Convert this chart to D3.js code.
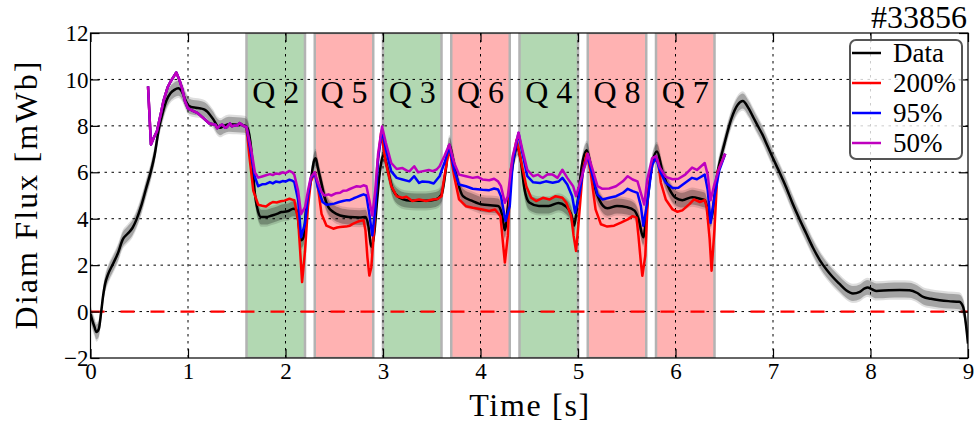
<!DOCTYPE html>
<html><head><meta charset="utf-8">
<script src="https://cdn.jsdelivr.net/npm/d3@7"></script>
<style>
html,body{margin:0;padding:0;background:#fff;}
svg{display:block;}
</style></head>
<body>
<svg id="chart" width="976" height="429" font-family="'Liberation Serif', serif"></svg>
<script>
// ---------------- DATA ----------------
const xTicks = [0,1,2,3,4,5,6,7,8,9];
const yTicks = [-2,0,2,4,6,8,10,12];
const title = "#33856";
const xLabel = "Time [s]";
const yLabel = "Diam Flux [mWb]";

const regionLabels = ["Q 2","Q 5","Q 3","Q 6","Q 4","Q 8","Q 7"];
const regionStart  = [1.6, 2.3, 3.0, 3.7, 4.4, 5.1, 5.8];
const regionEnd    = [2.2, 2.9, 3.6, 4.3, 5.0, 5.7, 6.4];
const regionKind   = ["green","red","green","red","green","red","red"];
const regionLabelValue = 9.0;

const seriesNames = ["Data","200%","95%","50%"];
const seriesColors = ["#000000","#ff0000","#0000ff","#bf00bf"];

// measured diamagnetic flux (black) and its uncertainty
const dataTime = [0.00,0.02,0.04,0.06,0.085,0.11,0.13,0.15,0.18,0.23,0.28,0.33,0.38,0.43,0.47,0.52,0.57,0.62,0.66,0.70,0.74,0.78,0.82,0.86,0.90,0.94,0.97,1.00,1.03,1.08,1.13,1.17,1.20,1.23,1.26,1.30,1.33,1.37,1.42,1.50,1.58,1.61,1.65,1.686,1.72,1.75,1.80,1.86,1.92,1.96,2.02,2.08,2.11,2.13,2.16,2.185,2.21,2.26,2.29,2.31,2.33,2.37,2.40,2.44,2.49,2.56,2.66,2.76,2.82,2.85,2.88,2.91,2.94,2.97,3.007,3.05,3.10,3.17,3.24,3.34,3.44,3.54,3.60,3.64,3.68,3.72,3.77,3.82,3.92,4.02,4.10,4.18,4.22,4.25,4.28,4.33,4.38,4.41,4.45,4.50,4.60,4.70,4.80,4.87,4.93,4.96,4.99,5.04,5.09,5.13,5.17,5.22,5.30,5.40,5.50,5.58,5.62,5.67,5.71,5.76,5.81,5.87,5.94,6.00,6.07,6.17,6.26,6.30,6.33,6.36,6.43,6.50,6.57,6.64,6.69,6.75,6.80,6.85,6.90,6.93,7.00,7.07,7.13,7.20,7.27,7.34,7.41,7.48,7.55,7.61,7.68,7.75,7.82,7.89,7.94,7.97,8.02,8.06,8.19,8.30,8.40,8.48,8.54,8.62,8.71,8.80,8.91,8.95,9.00];
const dataValue = [-0.1,-0.4,-0.65,-0.88,-0.75,0.0,0.7,1.2,1.6,2.05,2.5,3.1,3.35,3.6,3.95,4.55,5.3,6.05,6.8,7.85,8.55,9.1,9.4,9.55,9.62,9.45,9.15,8.9,8.82,8.78,8.75,8.7,8.6,8.45,8.28,8.0,7.92,8.0,8.07,8.05,8.02,7.9,6.95,5.08,4.29,4.07,4.07,4.14,4.22,4.29,4.32,4.43,4.4,3.93,3.07,3.2,4.36,5.65,6.45,6.6,6.23,5.5,4.94,4.5,4.29,4.14,4.07,4.05,4.07,3.7,2.78,3.35,4.8,6.1,6.76,6.1,5.26,4.9,4.8,4.77,4.77,4.83,5.04,5.97,7.19,6.54,5.54,4.97,4.76,4.61,4.58,4.55,4.2,3.5,4.5,6.3,7.05,6.6,5.3,4.7,4.55,4.55,4.68,4.55,4.2,3.7,4.5,6.3,6.95,6.3,5.4,4.8,4.45,4.55,4.5,4.35,4.0,3.2,4.6,6.4,6.9,5.97,5.25,4.9,4.8,4.93,4.85,4.8,4.4,3.97,5.97,7.2,8.27,8.92,9.07,8.75,8.35,7.95,7.55,7.26,6.6,5.97,5.4,4.67,4.0,3.37,2.75,2.22,1.8,1.5,1.2,0.92,0.78,0.85,1.0,1.04,0.95,0.89,0.92,0.93,0.92,0.8,0.63,0.55,0.49,0.45,0.42,0.2,-1.38];
const dataUncertainty = 0.32;

// simulations: common part before the first modulation
const earlyTime  = [0.59,0.62,0.65,0.68,0.72,0.75,0.79,0.82,0.85,0.88,0.91,0.94,0.97,1.00,1.05,1.10,1.14,1.18,1.22,1.28,1.30,1.33,1.35,1.38,1.40,1.43,1.45,1.48,1.50,1.53,1.55,1.58];
const earlyValue = [9.7,7.2,7.5,7.75,8.5,9.1,9.65,9.9,10.1,10.3,10.0,9.6,9.05,8.75,8.65,8.55,8.4,8.25,8.1,8.05,7.9,8.02,8.05,7.92,7.95,8.1,7.98,8.02,8.0,8.12,8.05,7.98];

const time50 = [1.60,1.65,1.686,1.72,1.76,1.80,1.84,1.87,1.90,1.94,1.97,2.00,2.04,2.07,2.09,2.13,2.16,2.20,2.23,2.26,2.30,2.33,2.37,2.40,2.44,2.47,2.52,2.56,2.59,2.63,2.66,2.70,2.73,2.77,2.80,2.83,2.86,2.89,2.92,2.95,2.99,3.03,3.085,3.14,3.20,3.24,3.27,3.32,3.36,3.40,3.47,3.51,3.55,3.58,3.63,3.68,3.73,3.78,3.85,3.92,3.97,4.02,4.09,4.14,4.18,4.21,4.25,4.28,4.33,4.39,4.43,4.48,4.54,4.59,4.62,4.64,4.69,4.74,4.79,4.84,4.89,4.95,4.98,5.03,5.075,5.10,5.15,5.20,5.25,5.32,5.39,5.46,5.51,5.56,5.61,5.645,5.68,5.71,5.76,5.80,5.84,5.90,5.97,6.03,6.10,6.17,6.22,6.30,6.33,6.36,6.40,6.45,6.51];
const value50 = [7.95,6.95,6.0,5.77,5.82,5.87,5.92,5.88,5.95,5.93,6.0,5.96,6.06,6.0,5.9,5.2,4.2,4.5,5.2,5.8,6.0,5.58,5.15,5.0,5.05,5.0,5.1,5.12,5.2,5.22,5.28,5.35,5.4,5.38,5.44,5.4,4.8,4.14,5.2,6.8,7.97,7.26,6.4,6.14,6.18,6.08,6.04,6.26,6.0,6.04,6.1,6.05,6.12,6.26,6.7,7.2,6.4,5.9,5.83,5.76,5.8,5.69,5.66,5.72,5.61,5.4,4.69,4.97,6.69,7.71,6.97,6.11,5.83,5.9,5.8,5.76,5.92,5.9,5.76,6.11,5.76,5.4,4.97,5.69,6.33,6.8,6.11,5.4,5.29,5.3,5.4,5.61,5.83,5.69,5.61,5.1,4.61,5.69,6.6,6.7,6.2,5.8,5.7,5.72,5.9,6.2,6.1,6.4,5.9,4.8,5.5,6.2,6.8];

const time95 = [1.60,1.65,1.686,1.72,1.76,1.80,1.84,1.87,1.90,1.94,1.97,2.00,2.04,2.07,2.09,2.13,2.16,2.20,2.23,2.26,2.30,2.33,2.38,2.42,2.46,2.50,2.55,2.59,2.63,2.66,2.70,2.73,2.77,2.80,2.83,2.86,2.89,2.92,2.95,2.99,3.03,3.085,3.14,3.20,3.27,3.32,3.37,3.40,3.47,3.52,3.58,3.63,3.68,3.73,3.78,3.85,3.92,4.02,4.09,4.14,4.18,4.21,4.256,4.30,4.33,4.39,4.43,4.48,4.54,4.61,4.67,4.74,4.80,4.84,4.89,4.94,4.97,5.01,5.055,5.10,5.15,5.20,5.25,5.32,5.39,5.46,5.51,5.56,5.61,5.645,5.67,5.71,5.76,5.80,5.84,5.90,5.97,6.03,6.10,6.17,6.22,6.30,6.33,6.36,6.40,6.45,6.51];
const value95 = [7.95,6.7,5.8,5.4,5.48,5.5,5.58,5.52,5.6,5.57,5.62,5.6,5.68,5.64,5.58,4.8,3.2,3.8,4.94,5.73,5.97,5.37,4.72,4.6,4.62,4.65,4.72,4.76,4.8,4.8,4.88,4.93,5.0,5.05,5.0,4.2,3.28,4.36,6.6,7.83,6.97,6.04,5.76,5.69,5.61,5.83,5.54,5.6,5.58,5.52,5.83,6.4,7.11,6.1,5.47,5.4,5.29,5.25,5.23,5.3,5.26,4.97,3.9,4.54,6.4,7.69,6.83,5.83,5.57,5.54,5.61,5.55,5.6,5.76,5.47,4.97,4.26,4.97,6.11,6.7,5.83,5.04,4.83,4.9,4.97,5.11,5.29,5.19,5.11,4.54,3.69,4.69,6.3,6.65,6.05,5.55,5.32,5.33,5.55,5.76,5.7,5.9,5.25,3.82,4.97,6.1,6.8];

const time200 = [1.60,1.63,1.67,1.72,1.76,1.80,1.84,1.87,1.91,1.95,1.99,2.04,2.07,2.09,2.13,2.15,2.17,2.20,2.23,2.26,2.30,2.33,2.37,2.42,2.49,2.53,2.56,2.62,2.66,2.69,2.73,2.76,2.80,2.82,2.84,2.86,2.88,2.91,2.94,2.98,3.03,3.085,3.14,3.20,3.24,3.30,3.37,3.44,3.51,3.56,3.60,3.63,3.68,3.73,3.78,3.85,3.92,4.02,4.09,4.15,4.205,4.23,4.25,4.28,4.31,4.37,4.42,4.47,4.52,4.57,4.64,4.71,4.77,4.84,4.88,4.93,4.955,4.98,5.00,5.05,5.09,5.13,5.18,5.235,5.30,5.37,5.44,5.51,5.56,5.60,5.62,5.645,5.66,5.69,5.72,5.77,5.82,5.85,5.90,5.97,6.02,6.07,6.14,6.19,6.25,6.30,6.32,6.35,6.37,6.40,6.43,6.51];
const value200 = [7.95,6.66,5.2,4.6,4.56,4.53,4.65,4.72,4.7,4.75,4.78,4.86,4.82,4.8,3.93,2.63,1.27,2.6,4.5,5.6,6.0,5.44,4.2,3.7,3.57,3.62,3.64,3.66,3.7,3.78,3.85,3.9,3.93,3.5,2.35,1.55,1.9,3.64,6.2,7.7,6.4,5.4,4.97,4.9,4.95,4.76,4.83,4.76,4.83,4.85,4.97,5.83,7.04,5.83,4.83,4.54,4.47,4.4,4.33,4.4,4.11,2.97,2.11,3.26,6.11,7.4,6.4,5.4,4.9,4.76,4.9,4.83,4.97,4.9,4.69,4.11,3.26,2.61,3.54,6.11,6.8,6.0,4.4,3.76,3.66,3.7,3.83,3.97,4.11,4.05,3.26,2.11,1.54,2.4,5.26,6.5,6.5,5.55,4.83,4.4,4.3,4.36,4.62,4.83,4.72,4.8,4.5,3.13,1.76,3.56,6.0,6.8];

// ---------------- CHART ----------------
const FONT = "'Liberation Serif', 'Times New Roman', serif";
const svg = d3.select("#chart");
const L = 90.5, R = 968, T = 33, B = 358;
const x = d3.scaleLinear().domain([0,9]).range([L,R]);
const y = d3.scaleLinear().domain([-2,12]).range([B,T]);

svg.append("defs").append("clipPath").attr("id","plotclip").append("rect")
  .attr("x",L).attr("y",T).attr("width",R-L).attr("height",B-T);

const plot = svg.append("g").attr("clip-path","url(#plotclip)");

// shaded regions
const fills = {green:"#b2d8b2", red:"#ffb2b2"};
regionLabels.forEach((lab,i)=>{
  plot.append("rect")
    .attr("x",x(regionStart[i])).attr("y",T)
    .attr("width",x(regionEnd[i])-x(regionStart[i])).attr("height",B-T)
    .attr("fill",fills[regionKind[i]])
    .attr("stroke","#b3b3b3").attr("stroke-width",2.5);
});

// grid
const grid = plot.append("g").attr("stroke","#000").attr("stroke-width",1).attr("stroke-dasharray","2.5,4.5");
xTicks.slice(1,-1).forEach(t=>{
  grid.append("line").attr("x1",x(t)).attr("x2",x(t)).attr("y1",T).attr("y2",B);
});
yTicks.slice(1,-1).forEach(v=>{
  grid.append("line").attr("x1",L).attr("x2",R).attr("y1",y(v)).attr("y2",y(v));
});

// zero line
plot.append("line").attr("x1",L).attr("x2",R).attr("y1",y(0)).attr("y2",y(0))
  .attr("stroke","#ff0000").attr("stroke-width",2.2).attr("stroke-dasharray","14,16");

// uncertainty band
const dataPts = dataTime.map((t,i)=>({t, v:dataValue[i]}));
const band = (w)=>d3.area().x(d=>x(d.t)).y0(d=>y(d.v-w)).y1(d=>y(d.v+w)).curve(d3.curveMonotoneX);
plot.append("path").attr("d",band(dataUncertainty*1.3)(dataPts)).attr("fill","#000").attr("fill-opacity",0.13);
plot.append("path").attr("d",band(dataUncertainty)(dataPts)).attr("fill","#000").attr("fill-opacity",0.26);

const mk = (ts,vs)=>earlyTime.map((t,i)=>({t,v:earlyValue[i]})).concat(ts.map((t,i)=>({t,v:vs[i]})));

plot.append("path").attr("d",d3.line().x(d=>x(d.t)).y(d=>y(d.v)).curve(d3.curveMonotoneX)(dataPts))
  .attr("fill","none").attr("stroke",seriesColors[0]).attr("stroke-width",2.5).attr("stroke-linejoin","round");

const sims = [[time200,value200,seriesColors[1]],[time95,value95,seriesColors[2]],[time50,value50,seriesColors[3]]];
sims.forEach(([ts,vs,c])=>{
  plot.append("path").attr("d",d3.line().x(d=>x(d.t)).y(d=>y(d.v)).curve(d3.curveLinear)(mk(ts,vs)))
    .attr("fill","none").attr("stroke",c).attr("stroke-width",2.5).attr("stroke-linejoin","round");
});

// region labels
regionLabels.forEach((lab,i)=>{
  svg.append("text").attr("x",x((regionStart[i]+regionEnd[i])/2)).attr("y",y(regionLabelValue))
    .attr("text-anchor","middle").attr("font-family",FONT).attr("font-size",32).text(lab);
});

// axes
const tickLen = 9;
const axB = svg.append("g").attr("transform",`translate(0,${B})`)
  .call(d3.axisBottom(x).tickValues(xTicks).tickSizeInner(-tickLen).tickSizeOuter(0).tickPadding(6).tickFormat(d3.format("d")));
const axL = svg.append("g").attr("transform",`translate(${L},0)`)
  .call(d3.axisLeft(y).tickValues(yTicks).tickSizeInner(-tickLen).tickSizeOuter(0).tickPadding(3).tickFormat(d=>d<0?"\u2212"+Math.abs(d):d));
const axT = svg.append("g").attr("transform",`translate(0,${T})`)
  .call(d3.axisTop(x).tickValues(xTicks).tickSizeInner(-tickLen).tickSizeOuter(0).tickFormat(""));
const axR = svg.append("g").attr("transform",`translate(${R},0)`)
  .call(d3.axisRight(y).tickValues(yTicks).tickSizeInner(-tickLen).tickSizeOuter(0).tickFormat(""));
[axB,axL,axT,axR].forEach(a=>{
  a.attr("font-family",FONT);
  a.select(".domain").remove();
  a.selectAll("line").attr("stroke","#000").attr("stroke-width",1.2);
});
axB.selectAll("text").attr("font-size",23).attr("font-family",FONT).attr("dy",null).attr("y",21);
axL.selectAll("text").attr("font-size",23).attr("font-family",FONT).attr("dy","0.33em").attr("x",-2);

// frame
svg.append("rect").attr("x",L).attr("y",T).attr("width",R-L).attr("height",B-T)
  .attr("fill","none").attr("stroke","#000").attr("stroke-width",1.2);

// labels
svg.append("text").attr("x",(L+R)/2).attr("y",416).attr("text-anchor","middle").attr("font-family",FONT)
  .attr("font-size",32).attr("textLength",120).attr("lengthAdjust","spacing").text(xLabel);
svg.append("text").attr("transform",`translate(37,${(T+B)/2}) rotate(-90)`).attr("text-anchor","middle").attr("font-family",FONT)
  .attr("font-size",32).attr("textLength",268).attr("lengthAdjust","spacing").text(yLabel);
svg.append("text").attr("x",967).attr("y",28).attr("text-anchor","end").attr("font-family",FONT).attr("font-size",32).text(title);

// legend
const lg = svg.append("g");
lg.append("rect").attr("x",850).attr("y",40).attr("width",112).attr("height",119).attr("rx",6)
  .attr("fill","#fff").attr("fill-opacity",0.8).attr("stroke","#555").attr("stroke-width",2);
seriesNames.forEach((n,i)=>{
  const cy = 53 + i*30;
  lg.append("line").attr("x1",852).attr("x2",881).attr("y1",cy).attr("y2",cy)
    .attr("stroke",seriesColors[i]).attr("stroke-width",2.5);
  lg.append("text").attr("x",893).attr("y",cy+9).attr("font-family",FONT).attr("font-size",27).text(n);
});
</script>
</body></html>
